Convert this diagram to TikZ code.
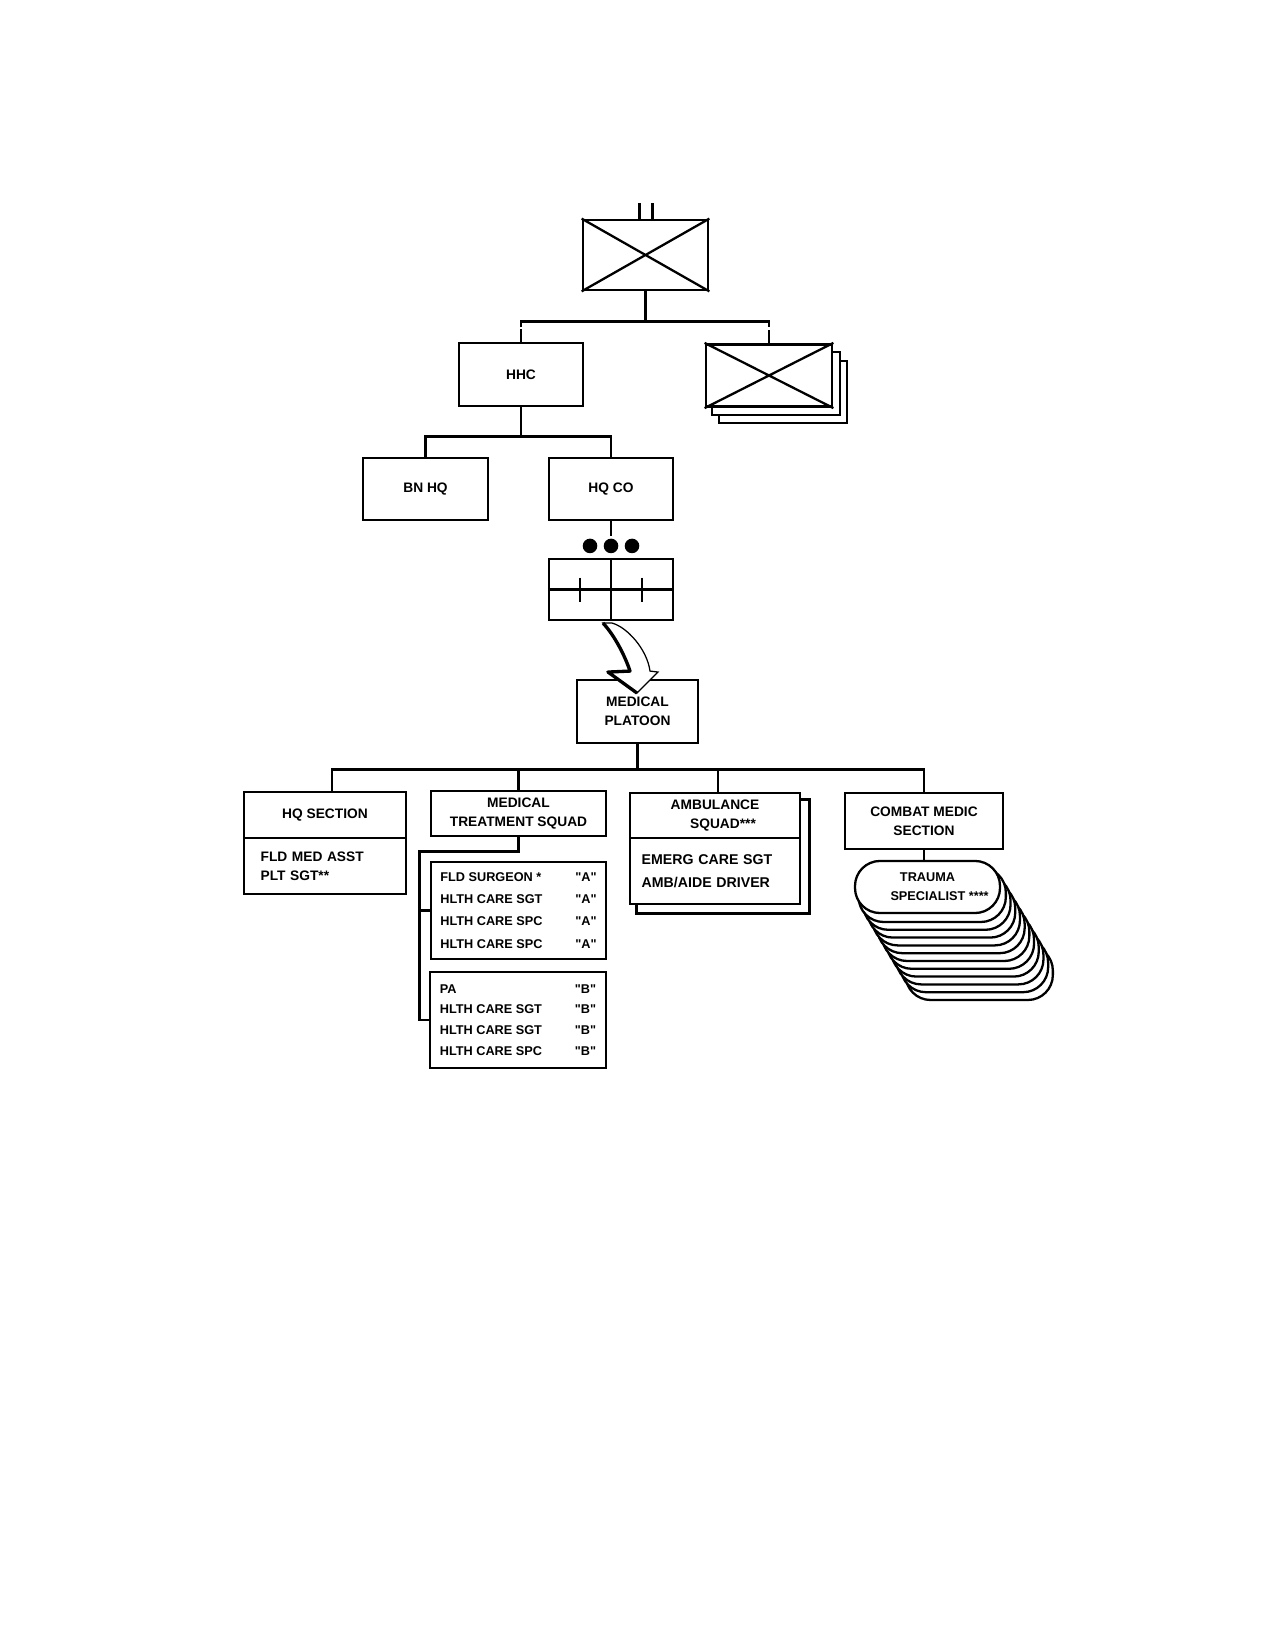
\documentclass[tikz,border=0pt]{standalone}
\usepackage{fontspec}
\setmainfont{Liberation Sans}
\usetikzlibrary{positioning}
\usetikzlibrary{calc}
\usetikzlibrary{backgrounds}

\begin{document}
\begin{tikzpicture}[x=0.48pt,y=-0.48pt]
% les styles
\tikzstyle boite=[draw,line width=1.3pt,inner sep=0pt,align=center,font=\fontsize{6.6}{9.2}\selectfont\bfseries]
\tikzstyle trait=[line width=1.3pt]
\tikzstyle croix=[line width=1.1pt]
\tikzstyle mince=[line width=1pt]
\tikzstyle listeA=[font=\fontsize{6.1}{10.6}\selectfont\bfseries]
\tikzstyle listeB=[font=\fontsize{6.1}{9.9}\selectfont\bfseries]
\tikzstyle pilule=[draw,line width=1.1pt,rounded corners=12pt,fill=white]
\newcommand{\dxpil}{4.7} % décalage des pilules en x
\newcommand{\dypil}{7.8} % et en y
\newcommand{\grp}[1]{\textquotedbl#1\textquotedbl} % "A", "B"

% le cadre
\useasboundingbox (0,0) rectangle (1281,1650);
\begin{scope}[on background layer]
\fill[white] (0,0) rectangle (1281,1650);
\end{scope}

% le bataillon
\node[boite,minimum width=60pt,minimum height=33.6pt] (bn) at (645.5,255) {};
\draw[croix] (bn.north west) -- (bn.south east) (bn.north east) -- (bn.south west);
\draw[trait] ($(bn.north)+(-6,0)$) -- ++(0,-16);
\draw[trait] ($(bn.north)+(7,0)$) -- ++(0,-16);

% HHC et les compagnies
\node[boite,minimum width=59.5pt,minimum height=30.2pt] (hhc) at (521,374.5) {HHC};
\node[boite,fill=white,minimum width=60.5pt,minimum height=30pt] (cies) at (769,375.5) {};
\draw[croix] (cies.north west) -- (cies.south east) (cies.north east) -- (cies.south west);
\begin{scope}[on background layer]
\draw[mince,fill=white] ($(cies.north west)+(14,18)$) rectangle ($(cies.south east)+(14,15)$);
\draw[mince,fill=white] ($(cies.north west)+(7,9)$) rectangle ($(cies.south east)+(7,7)$);
\end{scope}
\draw[trait] (bn.south) -- ++(0,30) coordinate (barre1);
\draw[trait] ($(hhc.north |- barre1)+(0,6)$) -- (hhc.north |- barre1) -- (cies.north |- barre1) -- ++(0,6);
\draw[trait] (hhc.north) -- ++(0,-13);
\draw[trait] (cies.north) -- ++(0,-13);

% BN HQ et HQ CO
\node[boite,minimum width=60pt,minimum height=29.8pt] (bnhq) at (425.5,489) {BN HQ};
\node[boite,minimum width=59.5pt,minimum height=29.8pt] (hqco) at (611,489) {HQ CO};
\draw[trait] (hhc.south) -- ++(0,29) coordinate (barre2);
\draw[trait] (bnhq.north) |- (barre2) -| (hqco.north);

% le peloton
\node[draw,mince,minimum width=59.5pt,minimum height=29.3pt,inner sep=0pt] (pln) at (611,589.5) {};
\draw[mince] (pln.north) -- (pln.south) (pln.west) -- (pln.east);
\draw[mince] ($(pln)+(-31,-12)$) -- ++(0,24) ($(pln)+(31,-12)$) -- ++(0,24);
\draw[trait] (hqco.south) -- ++(0,15);
\foreach \dx in {-21,0,21}
  \fill ($(pln.north)+(\dx,-12)$) circle (3.5pt);

% le peloton médical
\node[boite,minimum width=58.1pt,minimum height=30.2pt] (medpln) at (637.5,711.5) {MEDICAL\\PLATOON};
% la flèche
\filldraw[shift={(pln.south)},fill=white,line width=0.6pt] (-8,2) .. controls (4,15) and (14,35) .. (19,50) -- (-3,51) -- (26,72) -- (47,51) -- (39,50) .. controls (36,28) and (16,6) .. (1,2) -- cycle;
\draw[shift={(pln.south)},line width=1.6pt,line join=round] (-8,2) .. controls (4,15) and (14,35) .. (19,50) -- (-3,51) -- (26,72);

% les sections
\node[boite,minimum width=77.8pt,minimum height=22.1pt] (hqsec) at (325,815) {HQ SECTION};
\node[boite,align=left,text width=61.8pt,inner xsep=8pt,minimum height=26.9pt] (hqsecbas) at (325,866) {FLD MED ASST\\PLT SGT**};

\node[boite,minimum width=84pt,minimum height=21.6pt] (mts) at (518.5,813.5) {MEDICAL\\TREATMENT SQUAD};
\node[boite,listeA,minimum width=84pt,minimum height=46.6pt] (mtsA) at (518.5,910.5) {\begin{tabular*}{75pt}{@{}l@{\extracolsep{\fill}}r@{}}FLD SURGEON * & \grp{A}\\ HLTH CARE SGT & \grp{A}\\ HLTH CARE SPC & \grp{A}\\ HLTH CARE SPC & \grp{A}\end{tabular*}};
\node[boite,listeB,minimum width=84.5pt,minimum height=46.1pt] (mtsB) at (518,1020) {\begin{tabular*}{75pt}{@{}l@{\extracolsep{\fill}}r@{}}PA & \grp{B}\\ HLTH CARE SGT & \grp{B}\\ HLTH CARE SGT & \grp{B}\\ HLTH CARE SPC & \grp{B}\end{tabular*}};

\node[boite,fill=white,minimum width=81.6pt,minimum height=21.6pt] (amb) at (715,815.5) {AMBULANCE\\\hspace*{7.7pt}SQUAD***};
\node[boite,fill=white,align=left,text width=70.4pt,inner xsep=5.6pt,minimum height=31.7pt,font=\fontsize{6.8}{11.2}\selectfont\bfseries] (ambbas) at (715,871) {EMERG CARE SGT\\AMB/AIDE DRIVER};
\begin{scope}[on background layer]
\draw[trait,fill=white] ($(amb.north west)+(8,8)$) rectangle ($(ambbas.south east)+(8,8)$);
\end{scope}

\node[boite,minimum width=75.8pt,minimum height=26.9pt] (cms) at (924,821) {COMBAT MEDIC\\SECTION};
\node[pilule,align=center,font=\fontsize{6.1}{9}\selectfont\bfseries,minimum width=69.6pt,minimum height=25pt,inner sep=0pt] (trauma) at (927.5,887) {TRAUMA\\\hspace*{11.6pt}SPECIALIST ****};
\begin{scope}[on background layer]
\foreach \k in {11,10,...,1}
  \draw[pilule] ($(trauma.south west)+(\k*\dxpil,\k*\dypil)$) rectangle ($(trauma.north east)+(\k*\dxpil,\k*\dypil)$);
\end{scope}

% les liaisons du bas
\draw[trait] (medpln.south) -- ++(0,25) coordinate (barre3);
\draw[trait] ($(hqsec.north)+(7,0)$) |- (barre3) -| (cms.north);
\draw[trait] (mts.north) -- (mts.north |- barre3);
\draw[trait] ($(amb.north)+(3,0)$) -- ($(amb.north |- barre3)+(3,0)$);
\draw[trait] (mts.south) -- ++(0,14) -| ($(mtsB.west)+(-9,0)$) -- (mtsB.west);
\draw[trait] ($(mtsA.west)+(-9,0)$) -- (mtsA.west);
\draw[trait] (cms.south) -- (cms.south |- trauma.north);
\end{tikzpicture}
\end{document}
